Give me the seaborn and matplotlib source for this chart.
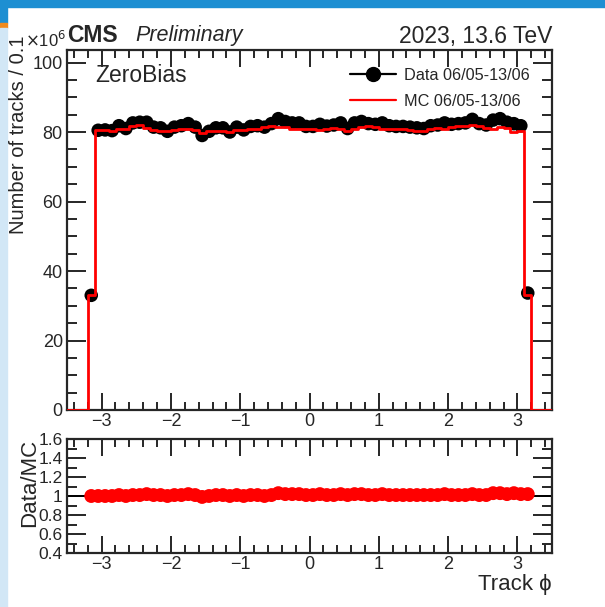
import numpy as np
import pandas as pd
import matplotlib
matplotlib.use("Agg")
import matplotlib.pyplot as plt
from matplotlib.lines import Line2D
from matplotlib.patches import Rectangle
from matplotlib.ticker import MultipleLocator
import seaborn as sns

# ---------------- data (millions of tracks per 0.1 bin) ----------------
bin_edges_lo = -3.5
bin_edges_hi = 3.5
bin_width = 0.1
phi_centers = [-3.15, -3.05, -2.95, -2.85, -2.75, -2.65, -2.55, -2.45, -2.35, -2.25,
               -2.15, -2.05, -1.95, -1.85, -1.75, -1.65, -1.55, -1.45, -1.35, -1.25,
               -1.15, -1.05, -0.95, -0.85, -0.75, -0.65, -0.55, -0.45, -0.35, -0.25,
               -0.15, -0.05, 0.05, 0.15, 0.25, 0.35, 0.45, 0.55, 0.65, 0.75,
               0.85, 0.95, 1.05, 1.15, 1.25, 1.35, 1.45, 1.55, 1.65, 1.75,
               1.85, 1.95, 2.05, 2.15, 2.25, 2.35, 2.45, 2.55, 2.65, 2.75,
               2.85, 2.95, 3.05, 3.15]
mc_values = [33.0, 80.5, 80.6, 80.4, 81.0, 81.0, 81.8, 82.0, 81.2, 80.6,
             80.4, 80.2, 80.6, 81.0, 80.8, 80.6, 79.8, 80.2, 80.4, 80.4,
             80.0, 80.6, 80.6, 80.8, 81.0, 81.4, 81.6, 81.4, 81.4, 81.0,
             81.0, 80.8, 80.8, 80.6, 80.9, 81.2, 81.0, 80.2, 81.0, 81.4,
             81.6, 81.4, 81.0, 81.0, 80.8, 80.8, 80.6, 80.4, 80.2, 81.0,
             81.2, 81.0, 81.4, 81.6, 81.8, 82.0, 81.6, 81.2, 81.0, 81.4,
             81.2, 80.0, 80.2, 33.0]
ratio_values = [1.00, 1.00, 1.00, 1.00, 1.01, 1.00, 1.01, 1.01, 1.02, 1.01,
                1.01, 1.00, 1.01, 1.01, 1.02, 1.01, 0.99, 1.00, 1.01, 1.01,
                1.00, 1.01, 1.00, 1.01, 1.01, 1.00, 1.01, 1.03, 1.02, 1.02,
                1.02, 1.01, 1.01, 1.02, 1.01, 1.01, 1.02, 1.01, 1.02, 1.02,
                1.01, 1.01, 1.02, 1.01, 1.01, 1.01, 1.01, 1.01, 1.01, 1.01,
                1.01, 1.02, 1.01, 1.01, 1.01, 1.02, 1.01, 1.01, 1.03, 1.03,
                1.02, 1.03, 1.02, 1.02]
data_values = [m * r for m, r in zip(mc_values, ratio_values)]
x_ticks = [-3, -2, -1, 0, 1, 2, 3]
legend_labels = ["Data 06/05-13/06", "MC 06/05-13/06"]

# ---------------- frames ----------------
edges = np.round(np.arange(bin_edges_lo, bin_edges_hi + 1e-9, bin_width), 2)
all_centers = np.round(edges[:-1] + bin_width / 2, 2)
mc_map = dict(zip(phi_centers, mc_values))
mc_w = np.array([mc_map.get(c, 0.0) for c in all_centers])
step_df = pd.DataFrame({"edge": edges, "w": np.append(mc_w, mc_w[-1])})
data_df = pd.DataFrame({"phi": phi_centers, "n": data_values, "ratio": ratio_values})

sns.set_theme(style="ticks")
plt.rcParams["font.family"] = ["Liberation Sans", "DejaVu Sans"]
plt.rcParams["axes.linewidth"] = 1.6
plt.rcParams["xtick.direction"] = "in"
plt.rcParams["ytick.direction"] = "in"

W, H = 605, 607
fig = plt.figure(figsize=(W / 100, H / 100), dpi=100)
fig.patch.set_facecolor("white")

# slide background bits
def fig_rect(l, t, r, b, color, z=-10):
    fig.add_artist(Rectangle((l / W, 1 - b / H), (r - l) / W, (b - t) / H,
                             transform=fig.transFigure, color=color, zorder=z))

fig_rect(0, 0, W, 7, "#1d8fd2")
fig_rect(0, 0, 7, 23, "#1d8fd2")
fig_rect(0, 23, 7, 28, "#f08a1c")
fig_rect(0, 28, 7, H, "#d2e7f6")

def px_ax(l, t, r, b):
    return fig.add_axes([l / W, 1 - b / H, (r - l) / W, (b - t) / H])

AX_L, AX_R = 67, 552
ax = px_ax(AX_L, 50, AX_R, 410)
axr = px_ax(AX_L, 439, AX_R, 553)

# top panel
sns.scatterplot(data=data_df, x="phi", y="n", color="black", s=95,
                edgecolor="none", ax=ax, zorder=3)
sns.lineplot(data=step_df, x="edge", y="w", drawstyle="steps-post", estimator=None,
             color="#ff0000", linewidth=2.0, ax=ax, zorder=4)
ax.set_xlim(-3.5, 3.5)
ax.set_ylim(0, 103.6)
ax.set_xlabel("")
ax.set_ylabel("Number of tracks / 0.1", fontsize=14.5, loc="top")
ax.yaxis.set_label_coords((28 - AX_L) / (AX_R - AX_L), (410 - 35) / 360)
ax.set_yticks([0, 20, 40, 60, 80, 100])
ax.yaxis.set_minor_locator(MultipleLocator(5))
ax.set_xticks(x_ticks)
ax.xaxis.set_minor_locator(MultipleLocator(0.2))
ax.tick_params(which="both", top=True, right=True, labelsize=13, width=1.4)
ax.tick_params(which="major", axis="y", length=14, pad=3)
ax.tick_params(which="minor", axis="y", length=7)
ax.tick_params(which="major", axis="x", length=12, pad=2)
ax.tick_params(which="minor", axis="x", length=6)

fig.text(25 / W, 1 - 40 / H, r"$\times$10$^{6}$", fontsize=12, va="center", ha="left")
fig.text(67 / W, 1 - 36 / H, "CMS", fontsize=16.5, fontweight="bold", va="center", ha="left")
fig.text(135 / W, 1 - 36 / H, "Preliminary", fontsize=15.5, style="italic", va="center", ha="left")
fig.text(AX_R / W, 1 - 36 / H, "2023, 13.6 TeV", fontsize=16.5, va="center", ha="right")
fig.text(95 / W, 1 - 75 / H, "ZeroBias", fontsize=16.5, va="center", ha="left")

handles = [Line2D([0], [0], color="black", marker="o", markersize=10, linewidth=1.6),
           Line2D([0], [0], color="#ff0000", linewidth=1.6)]
ax.legend(handles, legend_labels, loc="upper left",
          bbox_to_anchor=((350 - AX_L) / (AX_R - AX_L), (410 - 68) / 360),
          frameon=False, fontsize=11.7, handlelength=2.8, handletextpad=0.5,
          labelspacing=0.68, borderaxespad=0, borderpad=0)

# ratio panel
axr.axhline(1.0, color="black", linewidth=1.4, zorder=1)
sns.scatterplot(data=data_df, x="phi", y="ratio", color="#ff0000", s=100,
                edgecolor="none", ax=axr, zorder=3)
axr.set_xlim(-3.5, 3.5)
axr.set_ylim(0.4, 1.6)
axr.set_xticks(x_ticks)
axr.xaxis.set_minor_locator(MultipleLocator(0.2))
axr.yaxis.set_minor_locator(MultipleLocator(0.1))
axr.set_yticks([0.4, 0.6, 0.8, 1.0, 1.2, 1.4, 1.6])
axr.set_yticklabels(["0.4", "0.6", "0.8", "1", "1.2", "1.4", "1.6"])
axr.tick_params(which="both", top=True, right=True, labelsize=13, width=1.4)
axr.tick_params(axis="y", labelsize=12.5)
axr.tick_params(which="major", axis="y", length=14, pad=3)
axr.tick_params(which="minor", axis="y", length=7)
axr.tick_params(which="major", axis="x", length=12, pad=2)
axr.tick_params(which="minor", axis="x", length=6)
axr.set_ylabel("Data/MC", fontsize=16, loc="top")
axr.yaxis.set_label_coords((40 - AX_L) / (AX_R - AX_L), 1.0)
axr.set_xlabel("Track \u03d5", fontsize=16, loc="right")
axr.xaxis.set_label_coords(1.0, (553 - 574) / (553 - 439))

fig.savefig("out.png", dpi=100)
